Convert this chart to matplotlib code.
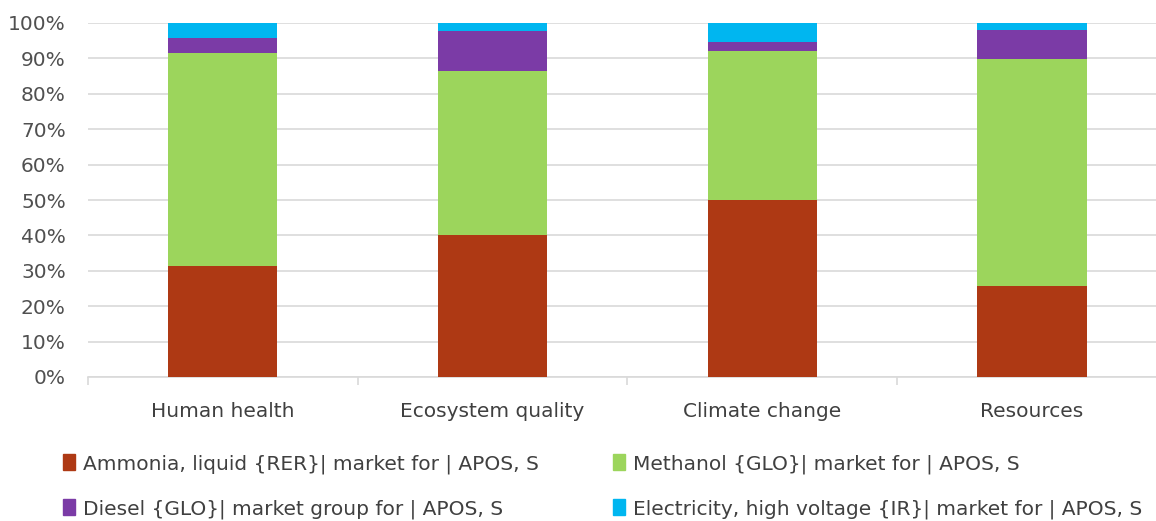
import numpy as np
import matplotlib
matplotlib.use("Agg")
import matplotlib.pyplot as plt
from matplotlib.patches import Patch

# categorias de impacto y contribucion (%) de cada proceso
categorias = ["Human health", "Ecosystem quality", "Climate change", "Resources"]
ammonia = [31.4, 40.1, 50.0, 25.7]
methanol = [60.1, 46.3, 42.2, 64.0]
diesel = [4.4, 11.3, 2.5, 8.3]
electricity = [4.1, 2.3, 5.3, 2.0]

series = [
    ("Ammonia, liquid {RER}| market for | APOS, S", ammonia, "#AE3914"),
    ("Methanol {GLO}| market for | APOS, S", methanol, "#9CD55C"),
    ("Diesel {GLO}| market group for | APOS, S", diesel, "#7B3BA6"),
    ("Electricity, high voltage {IR}| market for | APOS, S", electricity, "#00B6F0"),
]

plt.rcParams['font.family'] = ['DejaVu Sans']
fs = 14.5

fig = plt.figure(figsize=(11.56, 5.21), dpi=100)
ax = fig.add_axes([88/1156, 1 - 377/521, 1 - 88/1156, (377 - 23)/521])

x = np.arange(len(categorias))
base = np.zeros(len(categorias))
for nombre, vals, color in series:
    ax.bar(x, vals, width=0.405, bottom=base, color=color, label=nombre, zorder=3)
    base = base + np.array(vals)

ax.set_yticks(np.arange(0, 101, 10))
ax.set_yticklabels([f"{v}%" for v in range(0, 101, 10)])
ax.yaxis.grid(True, color="#d9d9d9", linewidth=1.2, zorder=0)
ax.tick_params(axis='y', length=0, labelsize=fs, labelcolor="#505050", pad=16)

# ejes: solo la linea inferior con marcas entre categorias
for s in ["top", "right", "left"]:
    ax.spines[s].set_visible(False)
ax.spines["bottom"].set_color("#d9d9d9")
ax.spines["bottom"].set_linewidth(1.2)
ax.set_xticks(np.arange(-0.5, 4, 1.0))
ax.set_xticklabels([])
ax.set_xticks(x, minor=True)
ax.set_xticklabels(categorias, minor=True)
ax.tick_params(axis='x', which='major', length=6, color="#d9d9d9", width=1.2)
ax.tick_params(axis='x', which='minor', length=0, labelsize=fs, labelcolor="#404040", pad=18)

# limites despues de los ticks para que no se expandan
ax.set_ylim(0, 100)
ax.set_xlim(-0.5, (1156 - 87)/270 - 0.5)

handles = [Patch(color=c) for _, _, c in series]
labels = [n for n, _, _ in series]
orden = [0, 2, 1, 3]
fig.legend([handles[i] for i in orden], [labels[i] for i in orden],
           loc="upper left", bbox_to_anchor=(63/1156, 1 - 454/521), ncol=2,
           frameon=False, fontsize=fs, handlelength=0.6, handleheight=0.85,
           handletextpad=0.4, columnspacing=3.65, labelspacing=1.27, labelcolor="#404040",
           borderaxespad=0, borderpad=0)

fig.savefig("out.png", dpi=100)
